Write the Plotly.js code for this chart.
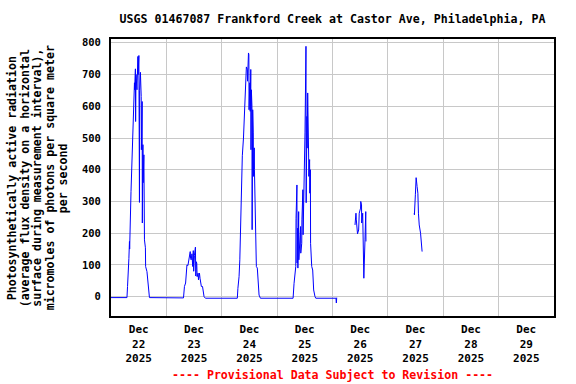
<!DOCTYPE html>
<html>
<head>
<meta charset="utf-8">
<script src="https://cdn.plot.ly/plotly-3.0.1.min.js"></script>
<style>html,body{margin:0;padding:0;background:#fff;}#chart{width:576px;height:384px;}</style>
</head>
<body>
<div id="chart"></div>
<script>
// Observation times (15-min-ish readings, gaps marked with null values)
var obsTimes = [
  "2025-12-22 00:00","2025-12-22 06:55","2025-12-22 07:10","2025-12-22 07:35","2025-12-22 07:45","2025-12-22 08:00",
  "2025-12-22 08:05","2025-12-22 08:40","2025-12-22 09:05","2025-12-22 09:30","2025-12-22 09:55","2025-12-22 10:10",
  "2025-12-22 10:15","2025-12-22 10:35","2025-12-22 10:40","2025-12-22 10:50","2025-12-22 11:15","2025-12-22 11:40",
  "2025-12-22 11:45","2025-12-22 12:05","2025-12-22 12:10","2025-12-22 12:20","2025-12-22 12:25","2025-12-22 12:45",
  "2025-12-22 13:05","2025-12-22 13:10","2025-12-22 13:30","2025-12-22 13:35","2025-12-22 13:50","2025-12-22 13:55",
  "2025-12-22 14:15","2025-12-22 14:30","2025-12-22 14:55","2025-12-22 15:00","2025-12-22 15:35","2025-12-22 16:00",
  "2025-12-22 16:25","2025-12-22 16:40",
  "2025-12-23 07:25","2025-12-23 07:50","2025-12-23 08:20","2025-12-23 08:30","2025-12-23 08:55","2025-12-23 09:20",
  "2025-12-23 09:50","2025-12-23 10:05","2025-12-23 10:20","2025-12-23 10:30","2025-12-23 10:45","2025-12-23 11:05",
  "2025-12-23 11:15","2025-12-23 11:25","2025-12-23 11:40","2025-12-23 11:50","2025-12-23 12:10","2025-12-23 12:35",
  "2025-12-23 12:45","2025-12-23 13:00","2025-12-23 13:10","2025-12-23 13:20","2025-12-23 13:45","2025-12-23 13:55",
  "2025-12-23 14:20","2025-12-23 14:35","2025-12-23 15:10","2025-12-23 15:40","2025-12-23 15:50","2025-12-23 16:20",
  "2025-12-23 16:55",
  "2025-12-24 06:45","2025-12-24 07:00","2025-12-24 07:30","2025-12-24 07:50","2025-12-24 07:58","2025-12-24 08:25",
  "2025-12-24 08:55","2025-12-24 09:25","2025-12-24 09:50","2025-12-24 10:15","2025-12-24 10:40","2025-12-24 11:05",
  "2025-12-24 11:10","2025-12-24 11:35","2025-12-24 11:45","2025-12-24 11:50","2025-12-24 12:10","2025-12-24 12:20",
  "2025-12-24 12:35","2025-12-24 12:40","2025-12-24 12:50","2025-12-24 12:55","2025-12-24 13:05","2025-12-24 13:10",
  "2025-12-24 13:25","2025-12-24 13:30","2025-12-24 13:40","2025-12-24 13:45","2025-12-24 14:05","2025-12-24 14:10",
  "2025-12-24 14:35","2025-12-24 15:00","2025-12-24 15:25","2025-12-24 15:45","2025-12-24 16:10","2025-12-24 16:45",
  "2025-12-25 06:55","2025-12-25 07:20","2025-12-25 07:45","2025-12-25 08:05","2025-12-25 08:12","2025-12-25 08:35",
  "2025-12-25 08:40","2025-12-25 08:55","2025-12-25 09:00","2025-12-25 09:20","2025-12-25 09:25","2025-12-25 09:50",
  "2025-12-25 10:10","2025-12-25 10:15","2025-12-25 10:40","2025-12-25 10:45","2025-12-25 11:10","2025-12-25 11:15",
  "2025-12-25 11:40","2025-12-25 12:05","2025-12-25 12:30","2025-12-25 12:35","2025-12-25 12:55","2025-12-25 13:00",
  "2025-12-25 13:15","2025-12-25 13:20","2025-12-25 13:40","2025-12-25 13:45","2025-12-25 14:05","2025-12-25 14:10",
  "2025-12-25 14:25","2025-12-25 14:30","2025-12-25 15:00","2025-12-25 15:25","2025-12-25 15:50","2025-12-25 16:25",
  "2025-12-25 16:45","2025-12-26 01:30","2025-12-26 01:40","2025-12-26 01:50",
  "2025-12-26 05:00",
  "2025-12-26 09:45","2025-12-26 09:55","2025-12-26 10:10","2025-12-26 10:20","2025-12-26 10:45","2025-12-26 10:50",
  "2025-12-26 11:20","2025-12-26 11:35","2025-12-26 12:10","2025-12-26 12:15","2025-12-26 12:35","2025-12-26 12:40",
  "2025-12-26 13:05","2025-12-26 13:10","2025-12-26 13:35","2025-12-26 14:05","2025-12-26 14:25","2025-12-26 14:30",
  "2025-12-27 00:00",
  "2025-12-27 11:25","2025-12-27 11:30","2025-12-27 11:55","2025-12-27 12:15","2025-12-27 12:40","2025-12-27 13:00",
  "2025-12-27 13:15","2025-12-27 13:35","2025-12-27 14:10","2025-12-27 14:35","2025-12-27 14:50"
];
// Photosynthetically active radiation, micromoles of photons per square meter per second
var parValues = [
  -3,-3,32,79,120,174,
  150,331,450,505,600,674,
  652,718,552,700,652,757,
  700,760,526,297,650,707,
  631,463,615,232,479,359,
  447,179,154,95,79,47,
  16,-3,
  -4,32,43,63,100,98,
  116,130,142,120,116,135,
  124,95,145,80,130,156,
  65,110,105,63,74,53,
  74,58,32,32,21,0,
  -5,
  -5,26,63,116,163,321,
  444,500,600,679,724,716,
  679,768,763,589,674,584,
  716,463,652,495,600,211,
  589,248,516,379,469,400,
  232,95,90,32,5,-5,
  -5,42,63,95,247,352,
  106,216,90,268,116,189,
  221,137,168,242,337,195,
  337,516,789,296,568,468,
  642,505,437,379,432,326,
  400,168,95,84,21,0,
  -5,-5,-20,-3,
  null,
  226,244,263,242,216,198,
  210,263,279,300,289,232,
  263,168,58,179,268,174,
  null,
  263,258,321,375,347,326,
  263,226,200,168,142
];

var chartTitle = "USGS 01467087 Frankford Creek at Castor Ave, Philadelphia, PA";
var yTitleLines = [
  "Photosynthetically active radiation",
  "(average flux density on a horizontal",
  "surface during measurement interval),",
  "micromoles of photons per square meter",
  "per second"
];
var footerText = "---- Provisional Data Subject to Revision ----";
var yTickVals = [0,100,200,300,400,500,600,700,800];

var FONT = "DejaVu Sans Mono, Liberation Mono, monospace";

var trace = {
  x: obsTimes, y: parValues, type: "scatter", mode: "lines",
  line: {color: "#0000ff", width: 1}, connectgaps: false, hoverinfo: "skip"
};

var L = 111, R = 22, T = 39, B = 68;
var plotW = 576 - L - R;
var lineX = [12, 25, 37.5, 50, 63];
var annotations = yTitleLines.map(function (txt, i) {
  return {
    text: txt, xref: "paper", yref: "paper",
    x: (lineX[i] - L) / plotW, y: 0.497, xanchor: "center", yanchor: "middle",
    textangle: -90, showarrow: false,
    font: {family: FONT, size: 11.6, color: "#000", weight: "bold"}
  };
});
annotations.push({
  text: footerText, xref: "paper", yref: "paper", x: 0.5, y: -(375 - 316) / (384 - T - B),
  xanchor: "center", yanchor: "middle", showarrow: false,
  font: {family: FONT, size: 11.6, color: "#ff0000", weight: "bold"}
});

var layout = {
  width: 576, height: 384,
  margin: {l: L, r: R, t: T, b: B, pad: 0},
  paper_bgcolor: "#ffffff", plot_bgcolor: "#ffffff",
  showlegend: false,
  title: {
    text: chartTitle, x: 0.5, xref: "paper", xanchor: "center",
    y: 1 - 19 / 384, yref: "container", yanchor: "middle",
    font: {family: FONT, size: 11.6, color: "#000", weight: "bold"}
  },
  xaxis: {
    type: "date", range: ["2025-12-22 00:00", "2025-12-30 00:00"],
    tick0: "2025-12-22", dtick: 86400000, ticklabelmode: "period",
    tickformat: "%b<br>%d<br>%Y", ticks: "", ticklabelstandoff: 2,
    showgrid: true, gridcolor: "#c8c8c8", gridwidth: 1, zeroline: false,
    showline: true, linecolor: "#000", linewidth: 2, mirror: true,
    tickfont: {family: FONT, size: 11, color: "#000", weight: "bold"}
  },
  yaxis: {
    range: [-61, 812], tickvals: yTickVals, ticks: "", ticklabelstandoff: 6,
    showgrid: true, gridcolor: "#c8c8c8", gridwidth: 1, zeroline: false,
    showline: true, linecolor: "#000", linewidth: 2, mirror: true,
    tickfont: {family: FONT, size: 10.5, color: "#000", weight: "bold"}
  },
  annotations: annotations
};

Plotly.newPlot("chart", [trace], layout, {staticPlot: true, displayModeBar: false});
</script>
</body>
</html>
